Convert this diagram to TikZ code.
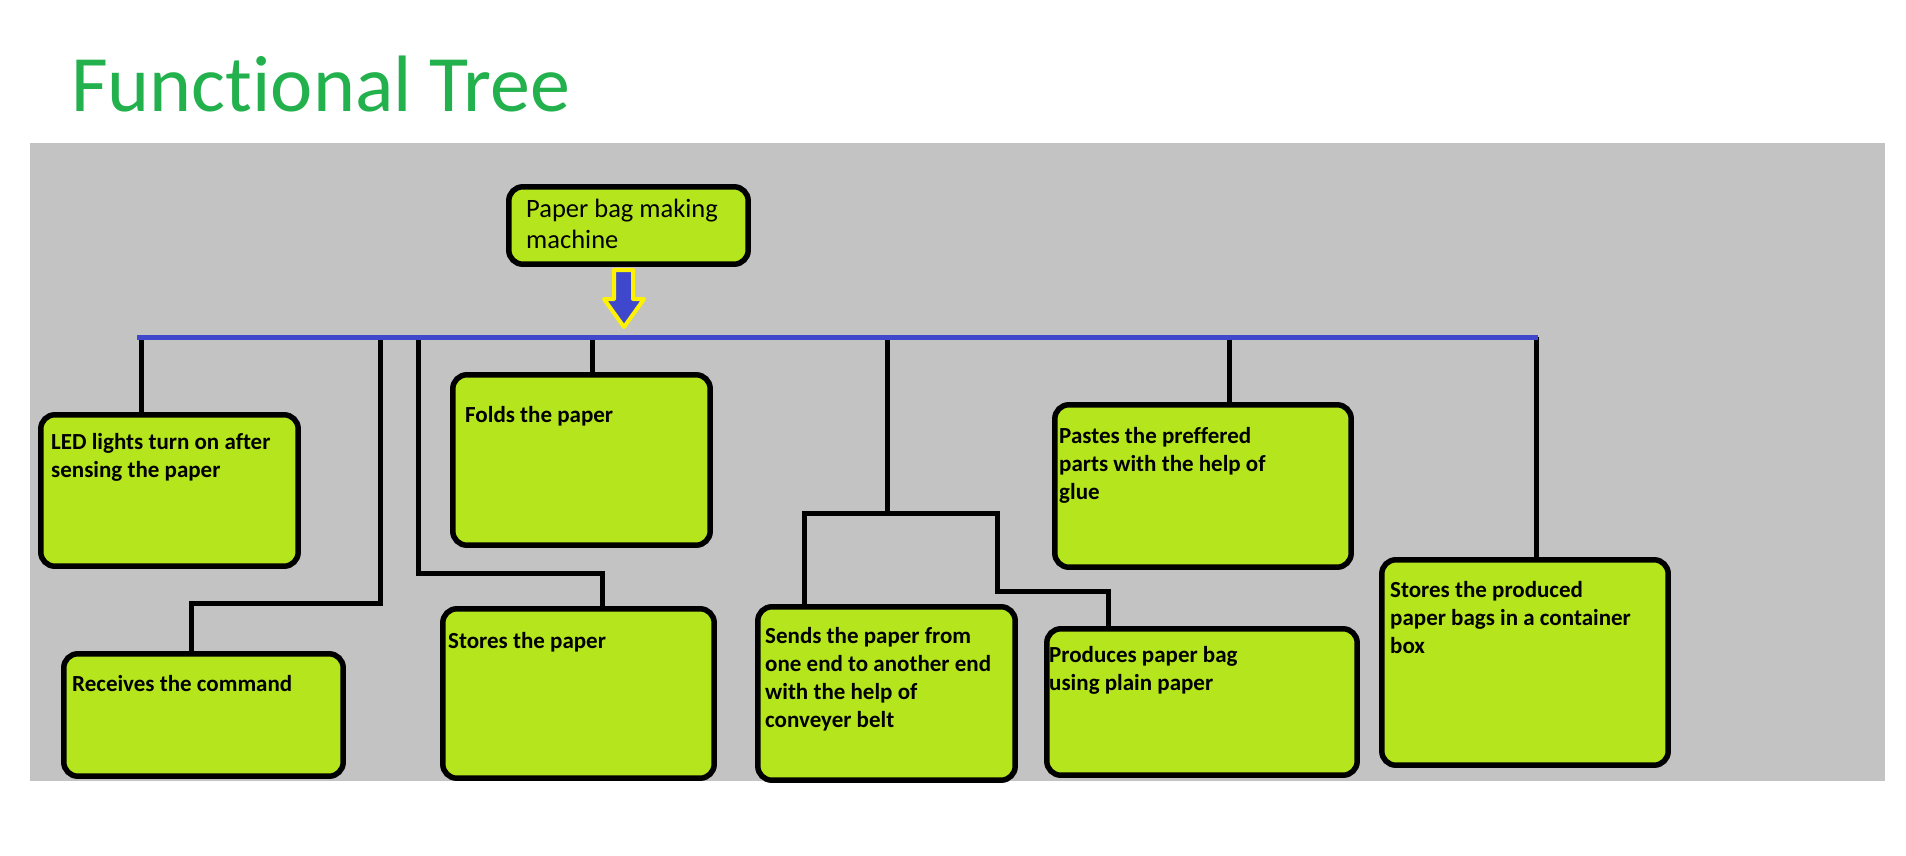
\documentclass[tikz,border=0pt]{standalone}
\usepackage{fontspec}
\setmainfont{Carlito}[Ligatures=NoCommon]
\definecolor{limebox}{HTML}{B5E61D}
\definecolor{bggray}{HTML}{C3C3C3}
\definecolor{busblue}{HTML}{3F48CC}
\definecolor{arrowyellow}{HTML}{FFF200}
\definecolor{titlegreen}{HTML}{22B14C}
\newcommand\boxlines[1]{\begin{tabular}[t]{@{}l@{}}#1\end{tabular}}
\tikzset{
  box/.style={draw=black, line width=5.5pt, fill=limebox, rounded corners=14pt, inner sep=0pt},
  conn/.style={draw=black, line width=5pt},
  busline/.style={draw=busblue, line width=5pt},
  lbl/.style={anchor=base west, inner sep=0pt, text=black, font=\bfseries\fontsize{23}{28}\selectfont},
  rootlbl/.style={anchor=base west, inner sep=0pt, text=black, font=\fontsize{26.5}{31}\selectfont},
}
\begin{document}
\begin{tikzpicture}[x=1pt,y=-1pt]
\useasboundingbox (0,0) rectangle (1906,856);
\fill[white] (0,0) rectangle (1906,856);
\fill[bggray] (30,143) rectangle (1885,781);

% title
\node[anchor=base west, inner sep=0pt, text=titlegreen, font=\fontsize{80}{90}\selectfont] (title) at (71,112) {Functional Tree};

% bus coordinates
\coordinate (busL) at (137,337);
\coordinate (busR) at (1538,337);
\coordinate (b1) at (141,337);
\coordinate (b2) at (380,337);
\coordinate (b3) at (418,337);
\coordinate (b4) at (592,337);
\coordinate (b5) at (887,337);
\coordinate (b6) at (1229,337);
\coordinate (b7) at (1536,337);
\coordinate (r1) at (191,603);
\coordinate (s1) at (602,573);
\coordinate (t5) at (887,513);
\coordinate (jl) at (804,513);
\coordinate (jr) at (997,513);
\coordinate (pp) at (1108,591);

% connectors (drawn first, boxes cover their ends)
\path
  node[minimum width=239pt, minimum height=77pt, inner sep=0pt] (root) at (628.5,225.5) {}
  node[minimum width=257pt, minimum height=151pt, inner sep=0pt] (led) at (169.5,490.5) {}
  node[minimum width=279pt, minimum height=122pt, inner sep=0pt] (recv) at (203.5,715) {}
  node[minimum width=257pt, minimum height=170pt, inner sep=0pt] (fold) at (581.5,460) {}
  node[minimum width=271pt, minimum height=169pt, inner sep=0pt] (storep) at (578.5,693.5) {}
  node[minimum width=257pt, minimum height=173pt, inner sep=0pt] (send) at (886.5,693.5) {}
  node[minimum width=296pt, minimum height=162pt, inner sep=0pt] (paste) at (1203,486) {}
  node[minimum width=310pt, minimum height=146pt, inner sep=0pt] (prod) at (1202,702) {}
  node[minimum width=286pt, minimum height=205pt, inner sep=0pt] (storeb) at (1525,662.5) {};

\draw[conn] (b1) -- (b1 |- led.north);
\draw[conn] (b2) |- (r1) -- (r1 |- recv.north);
\draw[conn] (b3) |- (s1) -- (s1 |- storep.north);
\draw[conn] (b4) -- (b4 |- fold.north);
\draw[conn] (b5) -- (t5);
\draw[conn] (jl |- send.north) -- (jl) -- (jr) |- (pp) -- (pp |- prod.north);
\draw[conn] (b6) -- (b6 |- paste.north);
\draw[conn] (b7) -- (b7 |- storeb.north);

% bus
\draw[busline] (busL) -- (busR);

% boxes
\foreach \n in {root,led,recv,fold,storep,send,paste,prod,storeb}{
  \draw[box] (\n.south west) rectangle (\n.north east);
}

% arrow from root to bus
\draw[draw=arrowyellow, fill=busblue, line width=4pt, line join=round]
  (614,270) -- (633,270) -- (633,299) -- (644,299) -- (624,327) -- (604,299) -- (614,299) -- cycle;

% labels
\node[rootlbl] (trootlbl) at (526,217) {\boxlines{Paper bag making\\machine}};
\node[lbl] (tled) at (51,449) {\boxlines{LED lights turn on after\\sensing the paper}};
\node[lbl] (trecv) at (72,691) {Receives the command};
\node[lbl] (tfold) at (465,422) {Folds the paper};
\node[lbl] (tstorep) at (448,648) {Stores the paper};
\node[lbl] (tsend) at (765,643) {\boxlines{Sends the paper from\\one end to another end\\with the help of\\conveyer belt}};
\node[lbl] (tpaste) at (1059,443) {\boxlines{Pastes the preffered\\parts with the help of\\glue}};
\node[lbl] (tprod) at (1049,662) {\boxlines{Produces paper bag\\using plain paper}};
\node[lbl] (tstoreb) at (1390,597) {\boxlines{Stores the produced\\paper bags in a container\\box}};
\end{tikzpicture}
\end{document}
